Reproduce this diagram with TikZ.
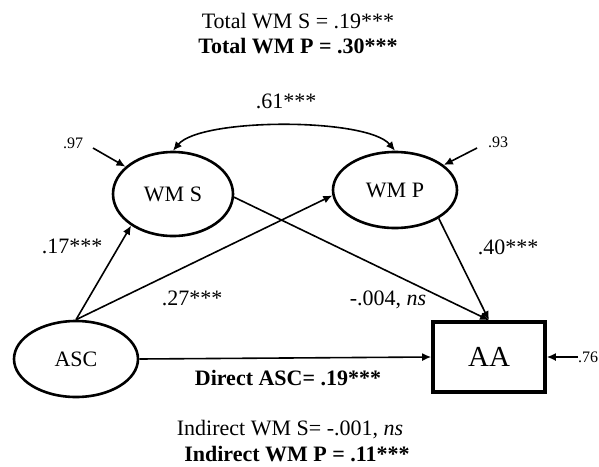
\documentclass[tikz,border=0pt]{standalone}
\usepackage{fontspec}
\setmainfont{Liberation Serif}
\usetikzlibrary{shapes,arrows,arrows.meta,positioning}
\tikzstyle{latent} = [ellipse, draw, line width=2.6pt, inner sep=0pt, font=\fontsize{22}{26}\selectfont]
\tikzstyle{observed} = [rectangle, draw, line width=3.6pt, inner sep=0pt, font=\fontsize{29}{34}\selectfont]
\tikzstyle{arrow} = [draw, line width=1.6pt, ->, >={Latex[length=9pt, width=8pt]}]
\tikzstyle{coef} = [inner sep=0pt, font=\fontsize{22}{26}\selectfont]
\tikzstyle{errlabel} = [inner sep=0pt, font=\fontsize{16}{19}\selectfont]

\begin{document}
\begin{tikzpicture}[x=1pt, y=-1pt]

  \useasboundingbox (0,0) rectangle (599,466);

  % totals
  \node[coef] (totals) at (298,21) {Total WM S = .19***};
  \node[coef] (totalp) at (298,46) {\bfseries Total WM P = .30***};

  % variables
  \node[latent, minimum width=120pt, minimum height=84pt] (ws) at (173,194) {WM S};
  \node[latent, minimum width=124pt, minimum height=76pt] (wp) at (395,190) {WM P};
  \node[latent, minimum width=124pt, minimum height=76pt] (asc) at (76,359) {ASC};
  \node[observed, minimum width=112pt, minimum height=70pt] (aa) at (489,357) {AA};

  % residuals
  \node[errlabel] (r97) at (73,143) {.97};
  \node[errlabel] (r93) at (498,142) {.93};
  \node[errlabel] (r76) at (588,357) {.76};
  \coordinate (e97) at (93,148);
  \coordinate (e93) at (477,148);
  \coordinate (e76) at (578,357);

  \path[arrow] (e97) -- (ws);
  \path[arrow] (e93) -- (wp);
  \path[arrow] (e76) -- (aa.east);

  % paths
  \path[arrow, <->] (ws.north) to[out=50, in=130, looseness=0.5] (wp.north);
  \path[arrow] (asc.north) -- (ws.217);
  \path[arrow] (asc.north) -- (wp.185);
  \path[arrow] (ws.-3) -- (aa.north);
  \path[arrow] (wp.-33) -- (aa.north);
  \path[arrow] (asc.east) -- (aa.west);

  % coefficients
  \node[coef] (c61) at (286,101) {.61***};
  \node[coef] (c17) at (72,246) {.17***};
  \node[coef] (c27) at (192,298) {.27***};
  \node[coef] (c004) at (388,300) {-.004, \textit{ns}};
  \node[coef] (c40) at (508,247) {.40***};
  \node[coef] (direct) at (288,378) {\bfseries Direct ASC= .19***};

  % indirect effects
  \node[coef] (inds) at (290,430) {Indirect WM S= -.001, \textit{ns}};
  \node[coef] (indp) at (297,454) {\bfseries Indirect WM P = .11***};

\end{tikzpicture}
\end{document}
